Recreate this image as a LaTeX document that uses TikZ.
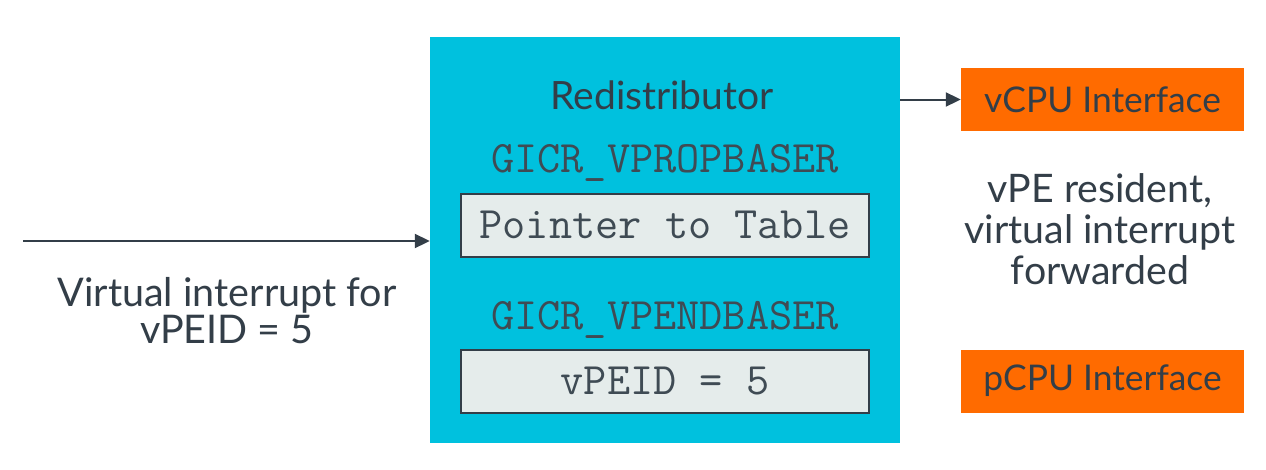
\documentclass[tikz,border=0pt]{standalone}
\usepackage{fontspec}
\setmainfont{Lato}
\usetikzlibrary{arrows.meta}
\definecolor{armdark}{HTML}{333E48}
\definecolor{armblue}{HTML}{00C1DE}
\definecolor{armorange}{HTML}{FF6B00}
\definecolor{regfill}{HTML}{E5ECEB}
\definecolor{monogray}{HTML}{3F4B54}
\tikzset{
  lbl/.style={text=armdark, font=\fontsize{39}{41}\selectfont, align=center, inner sep=0pt},
  mono/.style={text=monogray, font=\ttfamily\fontsize{45}{46}\selectfont, inner sep=0pt},
  regbox/.style={draw=armdark, line width=2pt, fill=regfill, minimum width=408pt, minimum height=63pt, inner sep=0pt},
  cpubox/.style={fill=armorange, text=armdark, font=\fontsize{35.4}{38}\selectfont, minimum width=283pt, minimum height=63pt, inner sep=0pt},
  conn/.style={draw=armdark, line width=2pt, -{Triangle[length=15pt,width=14pt]}}
}
\begin{document}
\begin{tikzpicture}[x=1pt,y=-1pt]
\useasboundingbox (0,0) rectangle (1266,469);
\fill[white] (0,0) rectangle (1266,469);
\node[fill=armblue, minimum width=470pt, minimum height=406pt, inner sep=0pt] (redist) at (665,240) {};
\node[lbl] (title) at (662,95) {Redistributor};
\node[mono] (gicr1) at (665,163) {GICR\_VPROPBASER};
\node[regbox, mono] (ptr) at (665,225) {Pointer to Table};
\node[mono] (gicr2) at (665,320) {GICR\_VPENDBASER};
\node[regbox, mono] (vpeid) at (665,381.5) {vPEID = 5};
\node[cpubox] (vcpu) at (1102.5,99.5) {vCPU Interface};
\node[cpubox] (pcpu) at (1102.5,381) {pCPU Interface};
\node[lbl, font=\fontsize{39.3}{41}\selectfont] (resident) at (1100,229) {vPE resident,\\virtual interrupt\\forwarded};
\node[lbl, font=\fontsize{39.5}{37}\selectfont] (virt) at (227,311) {Virtual interrupt for\\vPEID = 5};
\coordinate (start) at (23,241);
\draw[conn] (start) -- (start -| redist.west);
\draw[conn] (redist.east |- vcpu.west) -- (vcpu.west);
\end{tikzpicture}
\end{document}
